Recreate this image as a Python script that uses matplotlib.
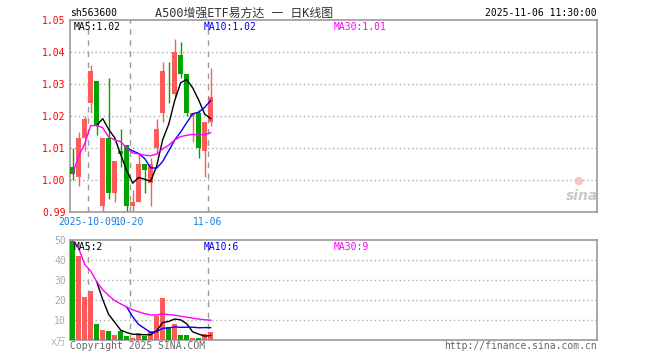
import numpy as np
import matplotlib
matplotlib.use("Agg")
import matplotlib.pyplot as plt

plt.rcParams['font.family'] = ['DejaVu Sans Mono', 'Noto Sans CJK SC']

# daily candles, 2025-09-26 .. 2025-11-06
opens  = [1.004, 1.001, 1.013, 1.024, 1.031, 0.992, 1.013, 0.996, 1.009, 1.011, 0.992, 0.993,
          1.005, 0.999, 1.010, 1.021, 1.029, 1.027, 1.039, 1.033, 1.020, 1.021, 1.009, 1.018]
closes = [1.002, 1.013, 1.019, 1.034, 1.017, 1.013, 0.996, 1.006, 1.008, 0.992, 0.993, 1.005,
          1.003, 1.005, 1.016, 1.034, 1.029, 1.040, 1.033, 1.021, 1.021, 1.010, 1.018, 1.026]
highs  = [1.010, 1.015, 1.020, 1.036, 1.031, 1.013, 1.032, 1.006, 1.016, 1.011, 0.997, 1.008,
          1.005, 1.007, 1.019, 1.037, 1.037, 1.044, 1.043, 1.033, 1.021, 1.022, 1.018, 1.035]
lows   = [1.000, 0.998, 1.009, 1.021, 1.014, 0.990, 0.994, 0.993, 1.004, 0.990, 0.990, 0.993,
          0.996, 0.992, 1.008, 1.018, 1.024, 1.026, 1.032, 1.020, 1.012, 1.007, 1.001, 1.017]
up     = [0, 1, 1, 1, 0, 1, 0, 1, 0, 0, 1, 1, 0, 1, 1, 1, 0, 1, 0, 0, 1, 0, 1, 1]
volumes = [49.5, 42.2, 21.7, 24.5, 8.0, 5.0, 4.5, 2.5, 4.7, 2.0, 0.8, 3.7,
           2.0, 4.5, 12.2, 21.2, 6.5, 8.0, 2.5, 2.5, 0.8, 0.9, 3.0, 4.0]

date_marks = {3: "2025-10-09", 10: "10-20", 23: "11-06"}
price_ticks = [0.99, 1.00, 1.01, 1.02, 1.03, 1.04, 1.05]
vol_ticks = [0, 10, 20, 30, 40, 50]

RED = "#ff5a5a"
GREEN = "#00a400"
GRID = "#aaaaaa"
BORDER = "#999999"

W, H = 660, 360
fig = plt.figure(figsize=(6.6, 3.6), dpi=100)


def px_axes(x0, y0, x1, y1):
    return fig.add_axes([x0 / W, 1 - y1 / H, (x1 - x0) / W, (y1 - y0) / H])


def ftext(x, y, s, **kw):
    fig.text(x / W, 1 - y / H, s, **kw)


def ma(vals, n, full_only=True):
    out = []
    for i in range(len(vals)):
        if full_only and i < n - 1:
            out.append(np.nan)
        else:
            seg = vals[max(0, i - n + 1):i + 1]
            out.append(sum(seg) / len(seg))
    return np.array(out)


x = np.arange(len(closes))
colors = [RED if u else GREEN for u in up]
xlim = (-0.45, 87.4)

ax = px_axes(70, 20, 597, 212)
axv = px_axes(70, 240, 597, 340)

for a in (ax, axv):
    a.set_xlim(*xlim)
    a.set_xticks([])
    for sp in a.spines.values():
        sp.set_color(BORDER)
        sp.set_linewidth(1.2)
    a.tick_params(axis="y", length=0, pad=3, labelsize=7)
    for i in date_marks:
        a.axvline(i - 0.45, color=BORDER, lw=1, ls=(0, (4, 4)), zorder=1)

# price panel
ax.set_ylim(0.99, 1.05)
ax.set_yticks(price_ticks)
ax.set_yticklabels(["%.2f" % t for t in price_ticks])
ax.tick_params(axis="y", labelcolor="#ff0000")
for t in price_ticks[1:-1]:
    ax.axhline(t, color=GRID, lw=1, ls=(0, (1, 2)), zorder=1)

bodies = [abs(c - o) if abs(c - o) > 0.0002 else 0.0002 for o, c in zip(opens, closes)]
ax.vlines(x, lows, highs, colors=colors, lw=1, zorder=2)
ax.bar(x, bodies, bottom=np.minimum(opens, closes), width=0.82, color=colors, zorder=3)

ax.plot(x, ma(closes, 5), color="black", lw=1, zorder=4)
ax.plot(x, ma(closes, 10), color="#0000ff", lw=1, zorder=4)
ax.plot(x, ma(closes, 30, full_only=False), color="#ff00ff", lw=1, zorder=4)

# date labels just under the price axis
for i, lab in date_marks.items():
    ax.text(i - 0.45, 0.9885, lab, color="#1a7fe0", fontsize=7, ha="center", va="top")

# volume panel
axv.set_ylim(0, 50)
axv.set_yticks(vol_ticks)
axv.set_yticklabels([""] + [str(t) for t in vol_ticks[1:]])
axv.tick_params(axis="y", labelcolor="#aaaaaa")
for t in vol_ticks[1:-1]:
    axv.axhline(t, color=GRID, lw=1, ls=(0, (1, 2)), zorder=1)
axv.bar(x, volumes, width=0.82, color=colors, zorder=3)
axv.plot(x, ma(volumes, 5), color="black", lw=1, zorder=4)
axv.plot(x, ma(volumes, 10), color="#0000ff", lw=1, zorder=4)
axv.plot(x, ma(volumes, 30, full_only=False), color="#ff00ff", lw=1, zorder=4)

# header texts
ftext(70, 13, "sh563600", fontsize=7, color="black", va="center")
ftext(244, 13, "A500增强ETF易方达 一 日K线图", fontsize=8.6, color="#333333",
      va="center", ha="center")
ftext(597, 13, "2025-11-06 11:30:00", fontsize=7, color="black", va="center", ha="right")

ftext(74, 27, "MA5:1.02", fontsize=7, color="black", va="center")
ftext(204, 27, "MA10:1.02", fontsize=7, color="#0000ff", va="center")
ftext(334, 27, "MA30:1.01", fontsize=7, color="#ff00ff", va="center")

ftext(74, 247, "MA5:2", fontsize=7, color="black", va="center")
ftext(204, 247, "MA10:6", fontsize=7, color="#0000ff", va="center")
ftext(334, 247, "MA30:9", fontsize=7, color="#ff00ff", va="center")

ftext(66, 342, "x万", fontsize=7, color="#b0b0b0", va="center", ha="right")
ftext(70, 346, "Copyright 2025 SINA.COM", fontsize=7, color="#666666", va="center")
ftext(597, 346, "http://finance.sina.com.cn", fontsize=7, color="#666666",
      va="center", ha="right")

# sina watermark
ftext(582, 196, "sina", fontsize=10, color="#c8c8c8", style="italic",
      fontweight="bold", va="center", ha="center", family="DejaVu Sans")
ftext(578, 181, "●", fontsize=8, color="#f4c6c6", va="center", ha="center",
      family="DejaVu Sans")

fig.savefig("out.png", dpi=100)
